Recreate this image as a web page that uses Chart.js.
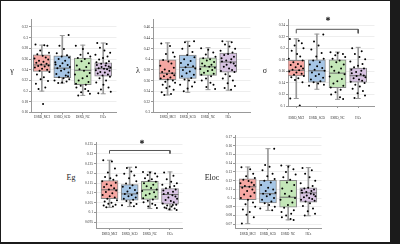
<!DOCTYPE html>
<html>
<head>
<meta charset="utf-8">
<script src="https://cdn.jsdelivr.net/npm/chart.js@4.4.1/dist/chart.umd.min.js"></script>
<style>
  body { margin: 0; background: #1b1b1b; width: 400px; height: 244px; overflow: hidden; }
  #sheet { position: absolute; left: 1px; top: 1px; width: 389px; height: 241px; background: #fff; }
  canvas { position: absolute; }
  .ytitle { position: absolute; font-family: 'Liberation Serif', serif; font-size: 8px; color: #222; transform: translate(-50%, -50%); white-space: nowrap; }
  .star { position: absolute; font-family: 'DejaVu Sans', sans-serif; font-size: 6px; color: #333; transform: translate(-50%, -50%); }
</style>
</head>
<body>
<div id="sheet"></div>
<canvas id="gamma" width="112" height="112" style="left:14px;top:10px"></canvas>
<canvas id="lambda" width="123" height="112" style="left:137px;top:10px"></canvas>
<canvas id="sigma" width="112" height="112" style="left:272px;top:10px"></canvas>
<canvas id="eg" width="114" height="107" style="left:78px;top:133px"></canvas>
<canvas id="eloc" width="113" height="114" style="left:218px;top:126px"></canvas>
<div class="ytitle" style="left:12px;top:70px">γ</div>
<div class="ytitle" style="left:138px;top:70px">λ</div>
<div class="ytitle" style="left:265px;top:70px">σ</div>
<div class="ytitle" style="left:71px;top:177px">Eg</div>
<div class="ytitle" style="left:212px;top:177px">Eloc</div>
<div class="star" style="left:328px;top:18px">✱</div>
<div class="star" style="left:142px;top:141px">✱</div>
<script>
const groups = ['ESRD_MCI', 'ESRD_SCD', 'ESRD_NC', 'HCs'];
const boxColors = ['#f6a7a2', '#a6c6e6', '#c4e7b8', '#d8c3e2'];

// [lower whisker, q1, median, q3, upper whisker] per group
const gammaBox = [[0.200, 0.237, 0.249, 0.268, 0.286], [0.215, 0.225, 0.243, 0.266, 0.304], [0.192, 0.212, 0.239, 0.262, 0.286], [0.195, 0.228, 0.242, 0.253, 0.290]];
const lambdaBox = [[0.333, 0.362, 0.374, 0.399, 0.431], [0.338, 0.364, 0.385, 0.408, 0.434], [0.343, 0.370, 0.386, 0.403, 0.422], [0.342, 0.376, 0.395, 0.412, 0.434]];
const sigmaBox = [[0.113, 0.152, 0.162, 0.179, 0.2165], [0.129, 0.1415, 0.161, 0.180, 0.2247], [0.1115, 0.132, 0.157, 0.180, 0.1935], [0.113, 0.1415, 0.1525, 0.1656, 0.2017]];
const egBox = [[0.1026, 0.1070, 0.1116, 0.1163, 0.1268], [0.1030, 0.1063, 0.1095, 0.1143, 0.1232], [0.1020, 0.1067, 0.1116, 0.1160, 0.1208], [0.1012, 0.1042, 0.1092, 0.1123, 0.1208]];
const elocBox = [[0.0707, 0.0982, 0.113, 0.122, 0.1357], [0.0859, 0.0945, 0.105, 0.1205, 0.1567], [0.075, 0.0895, 0.101, 0.1205, 0.1375], [0.0797, 0.0953, 0.106, 0.1119, 0.135]];

// individual subjects
const gammaPts = [
  [0.287, 0.286, 0.285, 0.276, 0.272, 0.269, 0.266, 0.263, 0.261, 0.259, 0.257, 0.255, 0.253, 0.251, 0.250, 0.248, 0.247, 0.246, 0.244, 0.242, 0.240, 0.238, 0.236, 0.231, 0.226, 0.222, 0.219, 0.214, 0.207, 0.204, 0.176],
  [0.305, 0.285, 0.279, 0.271, 0.267, 0.265, 0.263, 0.260, 0.257, 0.254, 0.252, 0.249, 0.247, 0.245, 0.243, 0.241, 0.238, 0.235, 0.232, 0.229, 0.226, 0.224, 0.222, 0.220, 0.218, 0.216, 0.215, 0.228, 0.250],
  [0.285, 0.279, 0.271, 0.268, 0.265, 0.262, 0.260, 0.256, 0.252, 0.248, 0.245, 0.241, 0.238, 0.234, 0.231, 0.228, 0.224, 0.220, 0.217, 0.214, 0.212, 0.210, 0.207, 0.204, 0.200, 0.198, 0.195, 0.192],
  [0.290, 0.288, 0.281, 0.276, 0.272, 0.268, 0.265, 0.262, 0.259, 0.256, 0.254, 0.252, 0.251, 0.249, 0.248, 0.246, 0.245, 0.244, 0.243, 0.242, 0.241, 0.239, 0.238, 0.236, 0.235, 0.233, 0.231, 0.229, 0.227, 0.224, 0.220, 0.216, 0.212, 0.207, 0.203, 0.199, 0.196]
];
const lambdaPts = [
  [0.430, 0.425, 0.413, 0.410, 0.405, 0.399, 0.396, 0.392, 0.388, 0.384, 0.381, 0.378, 0.376, 0.374, 0.372, 0.370, 0.368, 0.366, 0.364, 0.362, 0.360, 0.358, 0.356, 0.352, 0.349, 0.346, 0.343, 0.338, 0.335, 0.333],
  [0.434, 0.432, 0.425, 0.420, 0.414, 0.408, 0.404, 0.400, 0.397, 0.393, 0.390, 0.387, 0.385, 0.383, 0.380, 0.377, 0.374, 0.371, 0.368, 0.365, 0.362, 0.360, 0.357, 0.352, 0.349, 0.345, 0.340],
  [0.421, 0.418, 0.413, 0.409, 0.405, 0.402, 0.400, 0.398, 0.395, 0.392, 0.390, 0.388, 0.386, 0.384, 0.382, 0.380, 0.378, 0.375, 0.373, 0.371, 0.368, 0.364, 0.360, 0.356, 0.352, 0.348, 0.344],
  [0.434, 0.432, 0.428, 0.424, 0.420, 0.416, 0.413, 0.410, 0.408, 0.405, 0.402, 0.400, 0.398, 0.396, 0.394, 0.392, 0.390, 0.388, 0.386, 0.383, 0.380, 0.378, 0.376, 0.372, 0.368, 0.364, 0.360, 0.355, 0.350, 0.346, 0.343]
];
const sigmaPts = [
  [0.216, 0.213, 0.209, 0.205, 0.200, 0.196, 0.190, 0.186, 0.182, 0.179, 0.176, 0.173, 0.171, 0.169, 0.167, 0.165, 0.163, 0.162, 0.160, 0.158, 0.156, 0.154, 0.152, 0.150, 0.148, 0.145, 0.141, 0.113, 0.101],
  [0.224, 0.212, 0.205, 0.198, 0.192, 0.186, 0.182, 0.179, 0.176, 0.172, 0.169, 0.166, 0.163, 0.161, 0.158, 0.155, 0.152, 0.149, 0.146, 0.143, 0.141, 0.139, 0.137, 0.135],
  [0.193, 0.192, 0.190, 0.188, 0.185, 0.182, 0.179, 0.176, 0.172, 0.168, 0.165, 0.161, 0.158, 0.155, 0.151, 0.147, 0.143, 0.139, 0.135, 0.132, 0.128, 0.124, 0.120, 0.115, 0.112],
  [0.200, 0.195, 0.190, 0.185, 0.181, 0.177, 0.173, 0.170, 0.167, 0.165, 0.163, 0.161, 0.159, 0.157, 0.155, 0.153, 0.152, 0.150, 0.148, 0.146, 0.144, 0.142, 0.140, 0.137, 0.134, 0.130, 0.126, 0.122, 0.118, 0.114]
];
const egPts = [
  [0.1268, 0.1262, 0.1225, 0.1205, 0.1190, 0.1182, 0.1175, 0.1168, 0.1160, 0.1152, 0.1145, 0.1138, 0.1130, 0.1124, 0.1118, 0.1112, 0.1105, 0.1098, 0.1090, 0.1083, 0.1076, 0.1070, 0.1063, 0.1056, 0.1050, 0.1045, 0.1040, 0.1035, 0.1030, 0.1027],
  [0.1232, 0.1228, 0.1210, 0.1198, 0.1190, 0.1175, 0.1160, 0.1148, 0.1140, 0.1132, 0.1125, 0.1115, 0.1108, 0.1100, 0.1095, 0.1090, 0.1083, 0.1076, 0.1070, 0.1065, 0.1058, 0.1050, 0.1043, 0.1037, 0.1032],
  [0.1208, 0.1205, 0.1200, 0.1192, 0.1185, 0.1176, 0.1170, 0.1163, 0.1157, 0.1150, 0.1142, 0.1135, 0.1126, 0.1118, 0.1110, 0.1103, 0.1096, 0.1088, 0.1080, 0.1073, 0.1066, 0.1060, 0.1052, 0.1045, 0.1038, 0.1030, 0.1023],
  [0.1205, 0.1188, 0.1170, 0.1158, 0.1150, 0.1142, 0.1136, 0.1130, 0.1124, 0.1118, 0.1112, 0.1106, 0.1100, 0.1094, 0.1088, 0.1082, 0.1076, 0.1070, 0.1064, 0.1058, 0.1052, 0.1046, 0.1040, 0.1035, 0.1030, 0.1025, 0.1020, 0.1016, 0.1013, 0.1022, 0.1038]
];
const elocPts = [
  [0.1355, 0.133, 0.128, 0.125, 0.123, 0.121, 0.1195, 0.118, 0.117, 0.115, 0.114, 0.113, 0.112, 0.110, 0.108, 0.106, 0.104, 0.102, 0.100, 0.098, 0.095, 0.093, 0.090, 0.087, 0.084, 0.081, 0.078, 0.0708],
  [0.1565, 0.138, 0.136, 0.132, 0.128, 0.125, 0.122, 0.120, 0.118, 0.115, 0.112, 0.110, 0.108, 0.106, 0.105, 0.104, 0.102, 0.100, 0.098, 0.096, 0.094, 0.092, 0.090, 0.088, 0.086],
  [0.1375, 0.136, 0.133, 0.130, 0.127, 0.124, 0.121, 0.118, 0.115, 0.111, 0.108, 0.105, 0.102, 0.100, 0.098, 0.095, 0.092, 0.089, 0.086, 0.084, 0.082, 0.080, 0.078, 0.076, 0.075],
  [0.1345, 0.132, 0.128, 0.124, 0.120, 0.117, 0.114, 0.112, 0.111, 0.110, 0.109, 0.108, 0.107, 0.106, 0.105, 0.104, 0.103, 0.102, 0.101, 0.100, 0.099, 0.098, 0.097, 0.096, 0.094, 0.091, 0.088, 0.085, 0.082, 0.080]
];

// horizontal spread of the dots around each box centre
const jitter = [-0.31, 0.12, 0.27, -0.08, 0.35, -0.22, 0.04, 0.19, -0.36, 0.31, -0.14, 0.08, -0.27, 0.23, -0.03, 0.33, -0.18, 0.14, -0.34, 0.01,
  0.26, -0.11, 0.37, -0.24, 0.10, -0.06, 0.30, -0.29, 0.17, -0.16, 0.06, 0.34, -0.38, 0.21, -0.01, -0.20, 0.28, -0.33, 0.15, -0.10];

const tickFont = { family: "'Liberation Serif', serif", size: 3.6 };

function boxPanel(id, box, pts, y, frame, bracket) {
  const whiskers = box.map((b, i) => ({ x: i, y: [b[0], b[4]] }));
  const caps = box.flatMap((b, i) => [{ x: i, y: b[0] }, { x: i, y: b[4] }]);
  const boxes = box.map((b, i) => ({ x: i, y: [b[1], b[3]] }));
  const medians = box.map((b, i) => ({ x: i, y: b[2] }));
  const dots = pts.flatMap((g, i) => g.map((v, k) => ({ x: i + jitter[(k + i * 9) % jitter.length], y: v })));

  const datasets = [
    { type: 'scatter', data: dots, pointRadius: 1, pointBackgroundColor: '#000', pointBorderWidth: 0, order: 0 },
    { type: 'scatter', data: medians, pointStyle: 'line', pointRadius: 8.5, borderColor: '#6e6e6e', pointBorderColor: '#6e6e6e', pointBorderWidth: 1, order: 1 },
    { type: 'bar', data: boxes, barThickness: 17, grouped: false, backgroundColor: boxColors, borderColor: '#888', borderWidth: 1, borderSkipped: false, order: 2 },
    { type: 'scatter', data: caps, pointStyle: 'line', pointRadius: 2.5, borderColor: '#999', pointBorderColor: '#999', pointBorderWidth: 1, order: 3 },
    { type: 'bar', data: whiskers, barThickness: 1, grouped: false, backgroundColor: '#999', order: 4 }
  ];
  if (bracket) {
    datasets.push({
      type: 'line',
      data: [{ x: 0, y: bracket[1] }, { x: 0, y: bracket[0] }, { x: 3, y: bracket[0] }, { x: 3, y: bracket[1] }],
      borderColor: '#555', borderWidth: 1, pointRadius: 0, fill: false, tension: 0, order: 0
    });
  }

  new Chart(document.getElementById(id), {
    type: 'bar',
    data: { datasets },
    options: {
      responsive: false,
      animation: false,
      devicePixelRatio: 1,
      layout: { padding: { top: frame.top, right: frame.right, left: 0, bottom: 0 } },
      plugins: { legend: { display: false }, tooltip: { enabled: false } },
      scales: {
        x: {
          type: 'linear',
          min: frame.xMin,
          max: frame.xMax,
          offset: false,
          afterBuildTicks: s => { s.ticks = groups.map((g, i) => ({ value: i })); },
          afterFit: s => { s.height = frame.xh; },
          ticks: { callback: v => groups[v], font: { family: "'Liberation Serif', serif", size: 3.2 }, color: '#333', padding: frame.xpad, maxRotation: 0, autoSkip: false },
          grid: { offset: false, drawOnChartArea: false, tickLength: 2, color: '#999' },
          border: { color: '#999' }
        },
        y: {
          min: y[0],
          max: y[1],
          afterFit: s => { s.width = frame.yw; },
          ticks: { stepSize: y[2], includeBounds: false, callback: v => String(+v.toFixed(4)), font: tickFont, color: '#333', padding: 1 },
          grid: { color: '#eeeeee', tickLength: 2, tickColor: '#999' },
          border: { color: '#999' }
        }
      }
    }
  });
}

boxPanel('gamma', gammaBox, gammaPts, [0.16, 0.334, 0.02], { top: 4, right: 3, yw: 17, xh: 9, xpad: 1, xMin: -0.53, xMax: 3.65 });
boxPanel('lambda', lambdaBox, lambdaPts, [0.3, 0.475, 0.02], { top: 4, right: 3, yw: 16, xh: 9, xpad: 1, xMin: -0.72, xMax: 4.1 });
boxPanel('sigma', sigmaBox, sigmaPts, [0.1, 0.25, 0.02], { top: 4, right: 6, yw: 16, xh: 16, xpad: 8, xMin: -0.4, xMax: 3.79 }, [0.233, 0.226]);
boxPanel('eg', egBox, egPts, [0.092, 0.1359, 0.005], { top: 4, right: 3, yw: 18, xh: 12, xpad: 2, xMin: -0.67, xMax: 3.62 }, [0.1318, 0.1302]);
boxPanel('eloc', elocBox, elocPts, [0.0657, 0.1718, 0.01], { top: 4, right: 3, yw: 17, xh: 12, xpad: 2, xMin: -0.63, xMax: 3.65 });
</script>
</body>
</html>
